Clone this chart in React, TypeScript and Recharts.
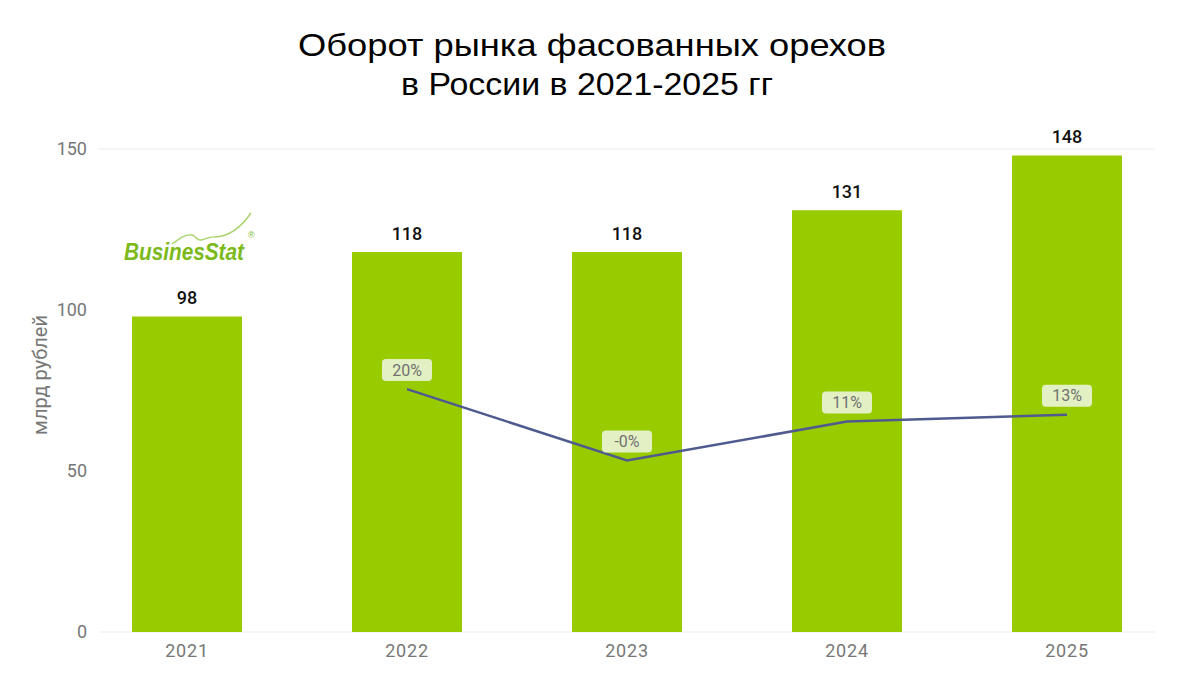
import React from 'react';
import { ComposedChart, Bar, Line, XAxis, YAxis, CartesianGrid, LabelList } from 'recharts';

const years = ['2021', '2022', '2023', '2024', '2025'];
const turnover = [98, 118, 118, 131, 148];
const growth: (number | null)[] = [null, 20.4, -0.3, 11.0, 13.0];
const growthLabels = ['', '20%', '-0%', '11%', '13%'];
const yTicks = [0, 50, 100, 150];

const data = years.map((y, i) => ({
  idx: i,
  year: y,
  value: turnover[i],
  growth: growth[i],
  glabel: growthLabels[i],
}));

const GrowthLabel = (props: any) => {
  const { x, y, index } = props;
  const txt = growthLabels[index];
  if (!txt || x == null || y == null) return null;
  const w = 50;
  const h = 22;
  const cy = y - 19;
  return (
    <g>
      <rect x={x - w / 2} y={cy - h / 2} width={w} height={h} rx={4} ry={4} fill="#e3f0c4" />
      <text x={x} y={cy + 5.5} textAnchor="middle" fill="#707070" fontSize={16} fontFamily="Roboto, sans-serif">
        {txt}
      </text>
    </g>
  );
};

export default function App() {
  return (
    <div style={{ position: 'absolute', left: 0, top: 0, width: 1180, height: 674, background: '#fff' }}>
      <ComposedChart width={1180} height={674} data={data} margin={{ top: 149, right: 25, bottom: 12, left: 0 }}>
        <CartesianGrid vertical={false} stroke="#ebebeb" />
        <XAxis
          type="number"
          dataKey="idx"
          domain={[-0.4, 4.4]}
          ticks={[0, 1, 2, 3, 4]}
          tickFormatter={(i: number) => years[i]}
          axisLine={false}
          tickLine={false}
          tickSize={0}
          tickMargin={12}
          height={30}
          tick={{ fill: '#777', fontSize: 18, fontFamily: 'Roboto, sans-serif', letterSpacing: 0.8 }}
        />
        <YAxis
          yAxisId="l"
          domain={[0, 150]}
          ticks={yTicks}
          axisLine={false}
          tickLine={false}
          tickSize={0}
          tickMargin={12}
          width={99}
          tick={{ fill: '#777', fontSize: 18, fontFamily: 'Roboto, sans-serif' }}
        />
        <YAxis yAxisId="r" orientation="right" hide domain={[-50, 90]} />
        <Bar yAxisId="l" dataKey="value" fill="#99cc00" barSize={110} isAnimationActive={false}>
          <LabelList
            dataKey="value"
            position="top"
            offset={12}
            fill="#111"
            fontSize={18}
            fontWeight={500}
            fontFamily="Roboto, sans-serif"
          />
        </Bar>
        <Line
          yAxisId="r"
          dataKey="growth"
          stroke="#4f5a8e"
          strokeWidth={2.5}
          dot={false}
          activeDot={false}
          connectNulls
          isAnimationActive={false}
        >
          <LabelList dataKey="growth" content={<GrowthLabel />} />
        </Line>
      </ComposedChart>
      <svg
        width={1180}
        height={674}
        style={{ position: 'absolute', left: 0, top: 0, pointerEvents: 'none' }}
      >
        <text
          x={298}
          y={56}
          fontSize={32}
          fontFamily="'Liberation Sans', Arial, sans-serif"
          fill="#000"
          textLength={588}
          lengthAdjust="spacingAndGlyphs"
        >
          Оборот рынка фасованных орехов
        </text>
        <text
          x={401}
          y={95}
          fontSize={32}
          fontFamily="'Liberation Sans', Arial, sans-serif"
          fill="#000"
          textLength={372}
          lengthAdjust="spacingAndGlyphs"
        >
          в России в 2021-2025 гг
        </text>
        <text
          x={40}
          y={375}
          transform="rotate(-90 40 375)"
          textAnchor="middle"
          dominantBaseline="central"
          fontSize={20}
          fontFamily="Roboto, sans-serif"
          fill="#777"
        >
          млрд рублей
        </text>
        <path
          d="M172 244 C 180 238, 186 234, 192 235 C 196 236, 197 241, 201 240 C 206 239, 210 236, 216 237 C 230 236, 242 226, 251 213"
          fill="none"
          stroke="#a8d36a"
          strokeWidth={1.4}
        />
        <text
          x={124}
          y={260}
          fontSize={24}
          fontStyle="italic"
          fontWeight="bold"
          fontFamily="'Liberation Sans', Arial, sans-serif"
          fill="#7cba1c"
          textLength={120}
          lengthAdjust="spacingAndGlyphs"
        >
          BusinesStat
        </text>
        <text x={248} y={238} fontSize={9} fontFamily="'Liberation Sans', Arial, sans-serif" fill="#7cba1c">
          ®
        </text>
      </svg>
    </div>
  );
}
